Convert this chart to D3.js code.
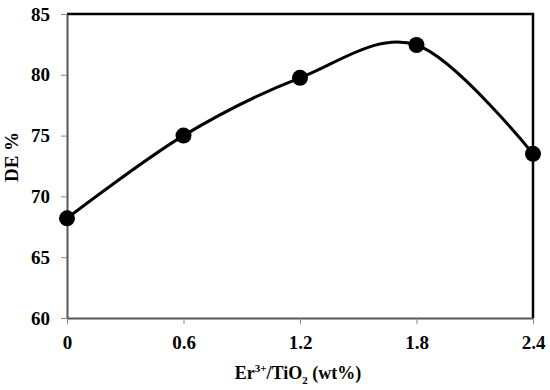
<!DOCTYPE html>
<meta charset="utf-8">
<style>
body { margin: 0; background: #fff; }
text { font-family: "Liberation Serif", "Times New Roman", serif; font-weight: bold; fill: #000; }
.axis path { stroke: #555; stroke-width: 2px; }
.axis line { stroke: #888; stroke-width: 1px; }
.axis text { font-size: 19px; }
</style>
<svg width="550" height="390"></svg>
<script src="https://d3js.org/d3.v7.min.js"></script>
<script>
var loading = [0, 0.6, 1.2, 1.8, 2.4];
var de = [68.2, 75.0, 79.75, 82.45, 73.5];
var xTicks = [0, 0.6, 1.2, 1.8, 2.4];
var yTicks = [60, 65, 70, 75, 80, 85];

var svg = d3.select("svg"),
    margin = {top: 14, right: 17, bottom: 72, left: 67},
    width = +svg.attr("width") - margin.left - margin.right,
    height = +svg.attr("height") - margin.top - margin.bottom;

var x = d3.scaleLinear().domain([0, 2.4]).range([0, width]),
    y = d3.scaleLinear().domain([60, 85]).range([height, 0]);

var g = svg.append("g")
    .attr("transform", "translate(" + margin.left + "," + margin.top + ")");

// top and right frame
g.append("path")
    .attr("d", "M0,0H" + width + "V" + height)
    .attr("fill", "none")
    .attr("stroke", "#000")
    .attr("stroke-width", 2.5);

g.append("g")
    .attr("class", "axis")
    .attr("transform", "translate(0," + height + ")")
    .call(d3.axisBottom(x).tickValues(xTicks).tickSizeInner(6).tickSizeOuter(0).tickPadding(12)
      .tickFormat(function(d) { return d === 0 ? "0" : d3.format(".1f")(d); }));

g.append("g")
    .attr("class", "axis")
    .call(d3.axisLeft(y).tickValues(yTicks).tickSizeInner(6).tickSizeOuter(0).tickPadding(11));

g.selectAll(".axis .domain").attr("stroke", "#555").attr("stroke-width", 2.5);

var pts = loading.map(function(d, i) { return [d, de[i]]; });

g.append("path")
    .datum(pts)
    .attr("fill", "none")
    .attr("stroke", "#000")
    .attr("stroke-width", 3)
    .attr("d", d3.line()
      .x(function(d) { return x(d[0]); })
      .y(function(d) { return y(d[1]); })
      .curve(d3.curveCardinal.tension(0)));

g.selectAll(".dot")
    .data(pts)
  .enter().append("circle")
    .attr("class", "dot")
    .attr("cx", function(d) { return x(d[0]); })
    .attr("cy", function(d) { return y(d[1]); })
    .attr("r", 8)
    .attr("fill", "#000");

var xt = svg.append("text")
    .attr("x", margin.left + width / 2 - 2)
    .attr("y", 379)
    .attr("text-anchor", "middle")
    .style("font-size", "18px");
xt.append("tspan").text("Er");
xt.append("tspan").attr("dy", -7).style("font-size", "11px").text("3+");
xt.append("tspan").attr("dy", 7).text("/TiO");
xt.append("tspan").attr("dy", 5).style("font-size", "11px").text("2");
xt.append("tspan").attr("dy", -5).text(" (wt%)");

svg.append("text")
    .attr("transform", "translate(18,157) rotate(-90)")
    .attr("text-anchor", "middle")
    .style("font-size", "19px")
    .text("DE %");
</script>
